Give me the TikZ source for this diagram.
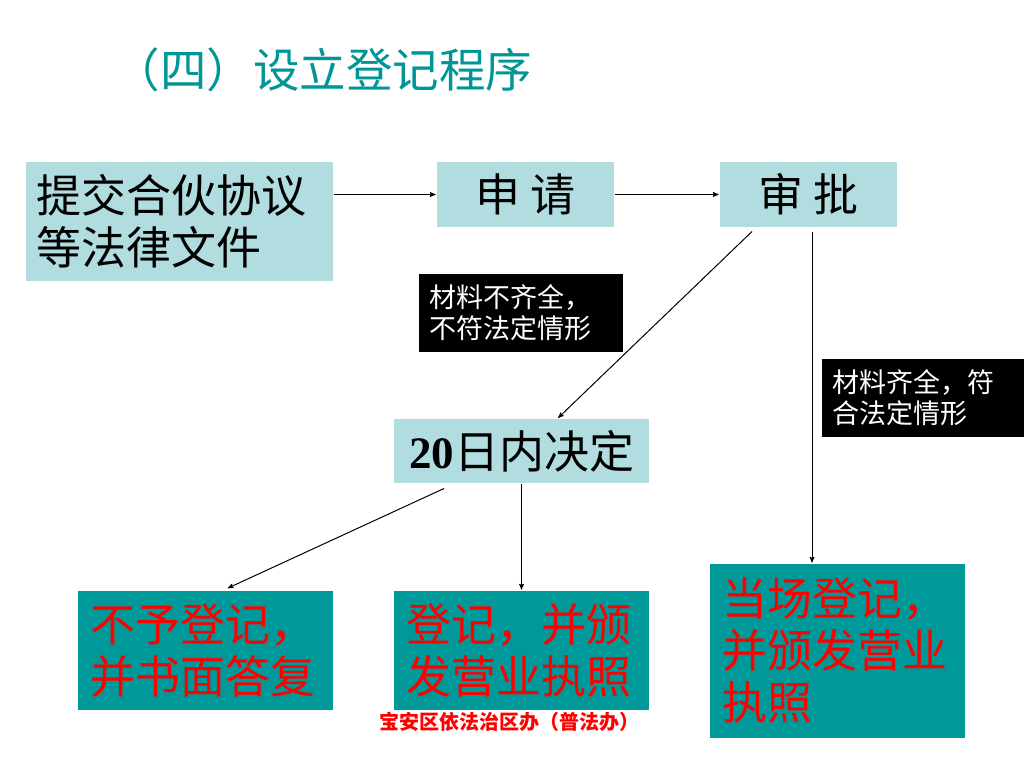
\documentclass[tikz,border=0pt]{standalone}
\usepackage{fontspec}
\setmainfont{Noto Sans CJK SC}
\newfontfamily\numfont{Liberation Serif}
\usetikzlibrary{arrows,positioning}

\definecolor{paleteal}{RGB}{178,221,224}
\definecolor{deepteal}{RGB}{0,153,153}
\definecolor{titleteal}{RGB}{0,150,150}

\newcommand\bigcjk{\fontsize{45}{52}\selectfont}
\newcommand\tagcjk{\fontsize{27}{31}\selectfont}

\tikzset{
  lightbox/.style={fill=paleteal, inner sep=0pt, font=\bigcjk},
  darkbox/.style={fill=deepteal, text=red, font=\bigcjk, align=left,
    minimum width=255pt, text width=231pt, inner xsep=12pt, inner ysep=0pt},
  blacktag/.style={fill=black, text=white, font=\tagcjk, align=left,
    minimum width=204pt, minimum height=78pt, text width=184pt,
    inner xsep=10pt, inner ysep=0pt}
}

\begin{document}
\begin{tikzpicture}[->,>=stealth',shorten >=1pt,x=1pt,y=-1pt,line width=1pt]

  \useasboundingbox (0,0) rectangle (1024,768);

  \node[text=titleteal, font=\fontsize{46.5}{50}\selectfont] (title) at (323,70) {（四）设立登记程序};

  \node[lightbox, minimum width=307pt, minimum height=119pt, text width=287pt,
        inner xsep=10pt, align=left] (doc) at (179.5,221.5) {提交合伙协议\\等法律文件};
  \node[lightbox, minimum width=177pt, minimum height=65pt] (apply)
        [right=103pt of doc.north east, anchor=north west] {申 请};
  \node[lightbox, minimum width=177pt, minimum height=65pt] (approve)
        [right=105pt of apply] {审 批};

  \node[blacktag] (short) [below=46pt of apply, xshift=-4.5pt] {材料不齐全，\\不符法定情形};
  \node[blacktag] (full) [below=131pt of approve, xshift=115.5pt] {材料齐全，符\\合法定情形};

  \node[lightbox, minimum width=255pt, minimum height=64pt] (decide)
        [below=191pt of apply, xshift=-4pt] {{\numfont\bfseries 20}日内决定};

  \node[darkbox, minimum height=119pt] (refuse) [below=107pt of decide, xshift=-316pt]
        {不予登记，\\并书面答复};
  \node[darkbox, minimum height=119pt] (grant) [below=107pt of decide]
        {登记，并颁\\发营业执照};
  \node[darkbox, minimum height=174pt] (onsite) [below=336pt of approve, xshift=29pt]
        {当场登记，\\并颁发营业\\执照};

  \node[text=red, font=\fontsize{20}{22}\selectfont\bfseries, inner sep=0pt] (office)
        [below=1pt of grant, xshift=-12pt] {宝安区依法治区办（普法办）};

  \draw (doc.east |- apply.west) -- (apply.west);
  \draw (apply) -- (approve);
  \draw ([xshift=-56.5pt,yshift=-4pt]approve.south) -- ([xshift=36pt]decide.north);
  \draw ([xshift=3.5pt,yshift=-4pt]approve.south) -- ([xshift=-25.5pt]onsite.north);
  \draw ([xshift=-77.5pt,yshift=-5pt]decide.south) -- ([xshift=21.5pt,yshift=2pt]refuse.north);
  \draw (decide.south) -- (grant.north);

\end{tikzpicture}
\end{document}
